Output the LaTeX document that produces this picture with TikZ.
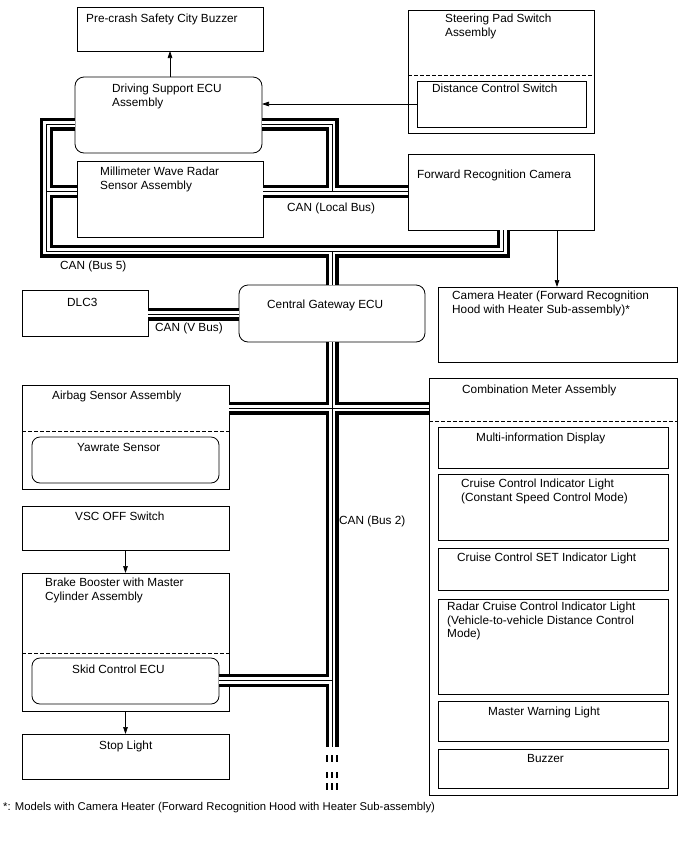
\documentclass[tikz,border=0pt]{standalone}
\usepackage{fontspec}
\setmainfont{Liberation Sans}
\usetikzlibrary{arrows.meta}
\newcommand\dfont{\fontsize{11.8}{13.5}\selectfont}
\newcommand\mkbox[6][]{\node[box,#1,minimum width={(#5-(#3))*1pt},minimum height={(#6-(#4))*1pt}] (#2) at (#3,#4) {};}
\begin{document}
\begin{tikzpicture}[x=1pt,y=-1pt,
 box/.style={draw=black, fill=white, line width=0.8pt, anchor=north west, inner sep=0pt, outer sep=0pt},
 rbox/.style={rounded corners=9pt},
 txt/.style={anchor=north west, inner sep=0pt, align=left, font=\dfont},
 arr/.style={line width=0.7pt, -{Triangle[length=7pt,width=4.6pt]}},
 dline/.style={line width=0.8pt, dash pattern=on 3.5pt off 2.5pt},
 busk/.style={line width=13pt, black},
 busw/.style={line width=6.4pt, white},
 busc/.style={line width=0.8pt, black},
 dashbar/.style={line width=2.6pt, black}]
\fill[white] (0,0) rectangle (688,852);
\useasboundingbox (0,0) rectangle (688,852);
% level coordinates
\coordinate (c124) at (0,124);
\coordinate (c191) at (0,191.5);
\coordinate (c503) at (503.5,0);
\coordinate (c314) at (0,314);
\coordinate (c408) at (0,408);
\coordinate (c681) at (0,680.5);
\coordinate (c104) at (0,104);
\coordinate (c557) at (557,0);
\coordinate (cend) at (332,747);
% boxes
\mkbox{buzzer}{77}{7}{263}{51}
\mkbox[rbox]{ecu}{75}{77}{262}{153}
\mkbox{steer}{408}{10}{594}{133}
\mkbox{dcs}{417}{81}{586}{127}
\mkbox{radar}{77}{161}{263}{237}
\mkbox{cam}{408}{154}{594}{230}
\mkbox{heater}{438}{287}{677}{362}
\mkbox{dlc}{22}{290}{148}{336}
\mkbox[rbox]{gw}{239}{285}{425}{342}
\mkbox{air}{22}{385}{229}{489}
\mkbox[rbox,rounded corners=8pt]{yaw}{32}{437}{219}{483}
\mkbox{vsc}{22}{506}{229}{550}
\mkbox{brake}{22}{573}{229}{711}
\mkbox[rbox,rounded corners=8pt]{skid}{32}{658}{219}{704}
\mkbox{stop}{22}{734}{229}{779}
\mkbox{comb}{429}{378}{677}{795}
\mkbox{mid}{438}{427}{668}{468}
\mkbox{ccil}{438}{474}{668}{540}
\mkbox{setl}{438}{548}{668}{590}
\mkbox{rcc}{438}{599}{668}{694}
\mkbox{mwl}{438}{701}{668}{741}
\mkbox{buz}{438}{749}{668}{788}
% dashed separators
\draw[dline] ([yshift=-65pt]steer.north west) -- ([yshift=-65pt]steer.north east);
\draw[dline] ([yshift=-46pt]air.north west) -- ([yshift=-46pt]air.north east);
\draw[dline] ([yshift=-80pt]brake.north west) -- ([yshift=-80pt]brake.north east);
\draw[dline] ([yshift=-43pt]comb.north west) -- ([yshift=-43pt]comb.north east);
% buses
\foreach \s in {busk,busw,busc}{
 \draw[\s] (ecu.west |- c124) -- (46.5,124) -- (46.5,251) -- (503.5,251) -- (cam.south -| c503);
 \draw[\s] (46.5,191.5) -- (radar.west |- c191);
 \draw[\s] (332,251) -- (gw.north);
 \draw[\s] (ecu.east |- c124) -- (332,124) -- (332,191.5);
 \draw[\s] (radar.east |- c191) -- (cam.west |- c191);
 \draw[\s] (dlc.east |- c314) -- (gw.west |- c314);
 \draw[\s] (gw.south) -- (cend);
 \draw[\s] (air.east |- c408) -- (comb.west |- c408);
 \draw[\s] (skid.east |- c681) -- (gw.south |- c681);
}
\foreach \xx in {327,332,337}{
 \foreach \ya/\yb in {755/762,772/778,783/790}{
  \draw[dashbar] (\xx,\ya) -- (\xx,\yb);
 }
}
% arrows
\draw[arr] (ecu.north -| buzzer.south) -- (buzzer.south);
\draw[arr] (dcs.west |- c104) -- (ecu.east |- c104);
\draw[arr] (cam.south -| c557) -- (heater.north -| c557);
\draw[arr] (vsc.south) -- (brake.north);
\draw[arr] (brake.south) -- (stop.north);
% texts
\node[txt] (t1) at (86,14) {Pre-crash Safety City Buzzer};
\node[txt] (t2) at (112,84) {Driving Support ECU\\Assembly};
\node[txt] (t3) at (445,14) {Steering Pad Switch\\Assembly};
\node[txt] (t4) at (432,84) {Distance Control Switch};
\node[txt] (t5) at (100,167) {Millimeter Wave Radar\\Sensor Assembly};
\node[txt] (t6) at (417,170) {Forward Recognition Camera};
\node[txt] (t7) at (287,203) {CAN (Local Bus)};
\node[txt] (t8) at (60,261) {CAN (Bus 5)};
\node[txt] (t9) at (452,291) {Camera Heater (Forward Recognition\\Hood with Heater Sub-assembly)*};
\node[txt] (t10) at (67,298) {DLC3};
\node[txt] (t11) at (155,323) {CAN (V Bus)};
\node[txt] (t12) at (267,300) {Central Gateway ECU};
\node[txt] (t13) at (52,391) {Airbag Sensor Assembly};
\node[txt] (t14) at (77,443) {Yawrate Sensor};
\node[txt] (t15) at (75,512) {VSC OFF Switch};
\node[txt] (t16) at (45,578) {Brake Booster with Master\\Cylinder Assembly};
\node[txt] (t17) at (72,665) {Skid Control ECU};
\node[txt] (t18) at (99,741) {Stop Light};
\node[txt] (t19) at (462,385) {Combination Meter Assembly};
\node[txt] (t20) at (476,433) {Multi-information Display};
\node[txt] (t21) at (461,479) {Cruise Control Indicator Light\\(Constant Speed Control Mode)};
\node[txt] (t22) at (457,553) {Cruise Control SET Indicator Light};
\node[txt] (t23) at (447,602) {Radar Cruise Control Indicator Light\\(Vehicle-to-vehicle Distance Control\\Mode)};
\node[txt] (t24) at (488,707) {Master Warning Light};
\node[txt] (t25) at (527,754) {Buzzer};
\node[txt] (t26) at (339,516) {CAN (Bus 2)};
\node[txt, font=\fontsize{11.3}{13}\selectfont] (t27) at (3,802) {*: Models with Camera Heater (Forward Recognition Hood with Heater Sub-assembly)};
\end{tikzpicture}
\end{document}
